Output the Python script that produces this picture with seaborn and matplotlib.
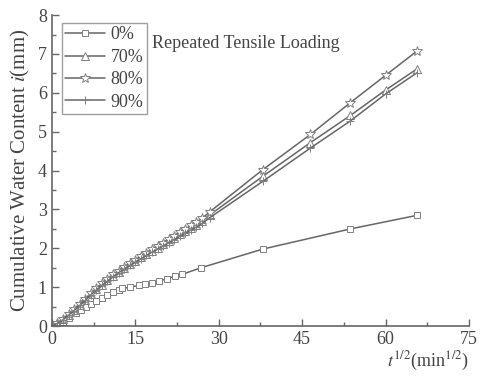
import matplotlib
matplotlib.use("Agg")
import matplotlib.pyplot as plt
import seaborn as sns
import pandas as pd
from matplotlib.ticker import MultipleLocator

sns.set_style("ticks")
plt.rcParams['font.family'] = ['Liberation Serif', 'DejaVu Serif']
plt.rcParams['mathtext.fontset'] = 'stix'

# ---- data ----
x_dry = [0, 1, 2, 3, 4.3, 5.2, 6.1, 7, 8, 9, 10, 11, 12, 12.7, 14.1, 15.7,
         16.8, 18, 19.3, 20.7, 22.1, 23.4, 26.8, 37.9, 53.7, 65.7]
y_0 = [0, 0.03, 0.1, 0.2, 0.33, 0.41, 0.49, 0.57, 0.65, 0.73, 0.8, 0.87, 0.93,
       0.97, 1.0, 1.05, 1.09, 1.12, 1.16, 1.22, 1.28, 1.33, 1.5, 1.98, 2.5, 2.85]

x_wet = [0, 1, 2, 3, 4, 5, 6, 7, 8, 9, 10, 11, 12, 13, 14, 15, 16, 17, 18, 19,
         20, 21, 22, 23, 24, 25, 26, 27, 28.4, 37.9, 46.5, 53.7, 60.0, 65.7]
y_80 = [0, 0.08, 0.18, 0.3, 0.43, 0.56, 0.7, 0.84, 0.98, 1.1, 1.22, 1.33, 1.43,
        1.53, 1.62, 1.71, 1.8, 1.89, 1.98, 2.07, 2.15, 2.24, 2.33, 2.42, 2.5,
        2.59, 2.68, 2.77, 2.94, 4.02, 4.93, 5.75, 6.45, 7.08]
y_70 = [0, 0.07, 0.17, 0.29, 0.42, 0.55, 0.68, 0.82, 0.95, 1.07, 1.19, 1.3, 1.4,
        1.5, 1.59, 1.68, 1.77, 1.85, 1.94, 2.02, 2.1, 2.19, 2.27, 2.36, 2.44,
        2.53, 2.61, 2.7, 2.86, 3.85, 4.72, 5.42, 6.07, 6.62]
y_90 = [0, 0.07, 0.16, 0.28, 0.4, 0.53, 0.66, 0.8, 0.93, 1.05, 1.16, 1.27, 1.37,
        1.47, 1.56, 1.65, 1.73, 1.82, 1.9, 1.98, 2.06, 2.14, 2.22, 2.31, 2.39,
        2.47, 2.55, 2.64, 2.79, 3.72, 4.58, 5.28, 5.97, 6.52]

labels = ["0%", "70%", "80%", "90%"]
markers = ["s", "^", "*", "+"]
msizes = [5, 6, 7, 5.5]

series = [(x_dry, y_0), (x_wet, y_70), (x_wet, y_80), (x_wet, y_90)]

gray = "#666666"
fig = plt.figure(figsize=(4.8, 3.77), dpi=100)
ax = fig.add_axes([0.108, 0.135, 0.869, 0.825])

for (xs, ys), lab, mk, ms in zip(series, labels, markers, msizes):
    df = pd.DataFrame({"x": xs, "y": ys})
    sns.lineplot(data=df, x="x", y="y", ax=ax, color=gray, lw=1.1,
                 marker=mk, markersize=ms, markerfacecolor="white",
                 markeredgecolor="#808080", markeredgewidth=0.7, label=lab)

ax.set_xlim(0, 75)
ax.set_ylim(0, 8)
ax.xaxis.set_major_locator(MultipleLocator(15))
ax.xaxis.set_minor_locator(MultipleLocator(7.5))
ax.yaxis.set_major_locator(MultipleLocator(1))
ax.yaxis.set_minor_locator(MultipleLocator(0.5))
ax.tick_params(which="both", direction="in", colors=gray, labelsize=13,
               labelcolor="#444444")
ax.tick_params(which="major", length=5, width=1)
ax.tick_params(which="minor", length=3, width=1)
for s in ["top", "right"]:
    ax.spines[s].set_visible(False)
for s in ["left", "bottom"]:
    ax.spines[s].set_color(gray)
    ax.spines[s].set_linewidth(1.2)

ax.set_xlabel("")
ax.set_ylabel(r"Cumulative Water Content $i$(mm)", fontsize=15, color="#444444",
              labelpad=4)
ax.text(1.0, -0.075, r"$t^{1/2}$(min$^{1/2}$)", transform=ax.transAxes,
        ha="right", va="top", fontsize=13, color="#444444")
ax.text(18, 7.28, "Repeated Tensile Loading", fontsize=13, color="#444444",
        va="center", ha="left")

leg = ax.legend(loc="upper left", bbox_to_anchor=(0.024, 0.975), fontsize=13,
                frameon=True, fancybox=False, borderpad=0.2, labelspacing=0.3,
                handlelength=2.2, handletextpad=0.3, borderaxespad=0)
leg.get_frame().set_edgecolor("#888888")
leg.get_frame().set_linewidth(1.0)
for t in leg.get_texts():
    t.set_color("#444444")

fig.savefig("out.png", dpi=100)
